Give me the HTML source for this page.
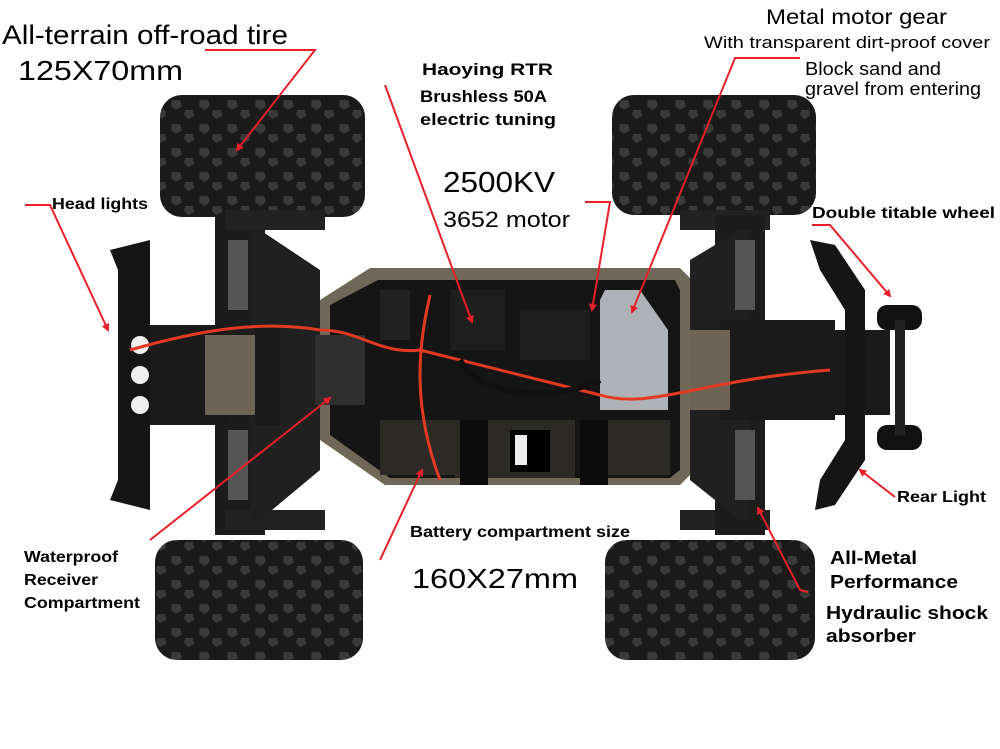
<!DOCTYPE html>
<html><head><style>
html,body{margin:0;padding:0;background:#fff;}
svg{display:block}
text{font-family:"Liberation Sans",sans-serif;fill:#000}
.b{font-weight:bold}
</style></head><body>
<svg width="1000" height="749" viewBox="0 0 1000 749" xmlns="http://www.w3.org/2000/svg">
<defs>
<pattern id="tread" width="28" height="24" patternUnits="userSpaceOnUse">
<rect width="28" height="24" fill="#1a1a1a"/>
<path d="M4 4 L12 4 L14 10 L8 14 L3 10Z M17 14 L25 14 L26 20 L20 23 L16 19Z" fill="#3a3a3a"/>
</pattern>
<marker id="ah" markerWidth="8" markerHeight="8" refX="6" refY="4" orient="auto" markerUnits="userSpaceOnUse"><path d="M0 0 L8 4 L0 8Z" fill="#e8202a"/></marker>
</defs>
<rect x="160" y="95" width="205" height="122" rx="22" fill="url(#tread)"/>
<rect x="612" y="95" width="204" height="120" rx="22" fill="url(#tread)"/>
<rect x="155" y="540" width="208" height="120" rx="22" fill="url(#tread)"/>
<rect x="605" y="540" width="210" height="120" rx="22" fill="url(#tread)"/>
<rect x="215" y="215" width="50" height="320" fill="#1c1c1c"/>
<rect x="225" y="210" width="100" height="20" fill="#222"/>
<rect x="225" y="510" width="100" height="20" fill="#222"/>
<polygon points="260,230 320,270 320,470 260,520 250,520 250,230" fill="#202020"/>
<rect x="680" y="210" width="90" height="20" fill="#222"/>
<rect x="680" y="510" width="90" height="20" fill="#222"/>
<rect x="715" y="215" width="50" height="320" fill="#1c1c1c"/>
<polygon points="690,260 740,230 750,230 750,520 740,520 690,480" fill="#202020"/>
<rect x="228" y="240" width="20" height="70" fill="#555"/>
<rect x="228" y="430" width="20" height="70" fill="#555"/>
<rect x="735" y="240" width="20" height="70" fill="#555"/>
<rect x="735" y="430" width="20" height="70" fill="#555"/>
<rect x="120" y="325" width="110" height="100" fill="#1a1a1a"/>
<polygon points="110,250 150,240 150,510 110,500 118,480 118,270" fill="#151515"/>
<circle cx="140" cy="345" r="9" fill="#eee"/><circle cx="140" cy="375" r="9" fill="#eee"/><circle cx="140" cy="405" r="9" fill="#eee"/>
<rect x="205" y="335" width="75" height="80" fill="#6d6456"/>
<rect x="255" y="325" width="25" height="100" fill="#1a1a1a"/>
<rect x="720" y="320" width="115" height="100" fill="#1a1a1a"/>
<rect x="830" y="330" width="60" height="85" fill="#1a1a1a"/>
<rect x="680" y="330" width="50" height="80" fill="#6d6456"/>
<polygon points="810,240 835,245 865,290 865,460 835,505 815,510 820,480 845,440 845,310 820,270" fill="#151515"/>
<rect x="877" y="305" width="45" height="25" rx="10" fill="#111"/>
<rect x="877" y="425" width="45" height="25" rx="10" fill="#111"/>
<rect x="895" y="320" width="10" height="115" fill="#222"/>
<polygon points="370,268 680,268 690,278 690,475 680,485 385,485 320,440 320,300" fill="#6f6858"/>
<polygon points="378,280 675,280 680,290 680,470 670,478 390,478 330,435 330,305" fill="#151515"/>
<rect x="380" y="420" width="90" height="55" fill="#2c2a26"/>
<rect x="455" y="420" width="120" height="58" fill="#2c2a26"/>
<rect x="580" y="420" width="90" height="55" fill="#2c2a26"/>
<rect x="460" y="420" width="28" height="65" fill="#0c0c0c"/>
<rect x="580" y="420" width="28" height="65" fill="#0c0c0c"/>
<rect x="510" y="430" width="40" height="42" fill="#000"/>
<rect x="515" y="435" width="12" height="30" fill="#eee"/>
<rect x="315" y="335" width="50" height="70" fill="#2f2f2f"/>
<rect x="380" y="290" width="30" height="50" fill="#222"/>
<rect x="450" y="290" width="55" height="60" fill="#1e1e1e"/>
<rect x="520" y="310" width="70" height="50" fill="#1e1e1e"/>
<polygon points="605,290 640,290 668,330 668,410 600,410 600,300" fill="#c9ccd1" opacity="0.85"/>
<path d="M130 350 C200 330 260 320 320 330 C360 330 380 355 420 350 L600 395 C650 410 700 380 830 370" stroke="#e23a22" stroke-width="3" fill="none"/>
<path d="M430 295 C420 340 410 400 440 480" stroke="#e23a22" stroke-width="3" fill="none"/>
<path d="M460 360 C480 400 560 400 600 380" stroke="#111" stroke-width="6" fill="none"/>
<g stroke="#e8202a" stroke-width="2" fill="none">
<path d="M205 50 L315 50 L237 150" marker-end="url(#ah)"/>
<path d="M25 205 L50 205 L108 330" marker-end="url(#ah)"/>
<path d="M385 85 L472 322" marker-end="url(#ah)"/>
<path d="M585 202 L610 202 L592 310" marker-end="url(#ah)"/>
<path d="M800 58 L735 58 L632 312" marker-end="url(#ah)"/>
<path d="M812 225 L830 225 L890 296" marker-end="url(#ah)"/>
<path d="M895 497 L860 470" marker-end="url(#ah)"/>
<path d="M808 592 L800 590 L758 508" marker-end="url(#ah)"/>
<path d="M150 540 L330 398" marker-end="url(#ah)"/>
<path d="M380 560 L422 470" marker-end="url(#ah)"/>
</g>
<g lengthAdjust="spacingAndGlyphs">
<text x="2" y="44" font-size="27" textLength="286" lengthAdjust="spacingAndGlyphs">All-terrain off-road tire</text>
<text x="18" y="80" font-size="28" textLength="165" lengthAdjust="spacingAndGlyphs">125X70mm</text>
<text x="52" y="209" font-size="16" class="b" textLength="96" lengthAdjust="spacingAndGlyphs">Head lights</text>
<text x="422" y="75" font-size="17" class="b" textLength="131" lengthAdjust="spacingAndGlyphs">Haoying RTR</text>
<text x="420" y="102" font-size="17" class="b" textLength="127" lengthAdjust="spacingAndGlyphs">Brushless 50A</text>
<text x="420" y="125" font-size="17" class="b" textLength="136" lengthAdjust="spacingAndGlyphs">electric tuning</text>
<text x="443" y="192" font-size="29" textLength="112" lengthAdjust="spacingAndGlyphs">2500KV</text>
<text x="443" y="227" font-size="22" textLength="127" lengthAdjust="spacingAndGlyphs">3652 motor</text>
<text x="766" y="24" font-size="21" textLength="181" lengthAdjust="spacingAndGlyphs">Metal motor gear</text>
<text x="704" y="48" font-size="17" textLength="286" lengthAdjust="spacingAndGlyphs">With transparent dirt-proof cover</text>
<text x="805" y="75" font-size="18" textLength="136" lengthAdjust="spacingAndGlyphs">Block sand and</text>
<text x="805" y="95" font-size="18" textLength="176" lengthAdjust="spacingAndGlyphs">gravel from entering</text>
<text x="812" y="218" font-size="16" class="b" textLength="183" lengthAdjust="spacingAndGlyphs">Double titable wheel</text>
<text x="897" y="502" font-size="16" class="b" textLength="89" lengthAdjust="spacingAndGlyphs">Rear Light</text>
<text x="830" y="564" font-size="18" class="b" textLength="87" lengthAdjust="spacingAndGlyphs">All-Metal</text>
<text x="830" y="588" font-size="18" class="b" textLength="128" lengthAdjust="spacingAndGlyphs">Performance</text>
<text x="826" y="619" font-size="18" class="b" textLength="162" lengthAdjust="spacingAndGlyphs">Hydraulic shock</text>
<text x="826" y="642" font-size="18" class="b" textLength="90" lengthAdjust="spacingAndGlyphs">absorber</text>
<text x="410" y="537" font-size="16" class="b" textLength="220" lengthAdjust="spacingAndGlyphs">Battery compartment size</text>
<text x="412" y="588" font-size="28" textLength="166" lengthAdjust="spacingAndGlyphs">160X27mm</text>
<text x="24" y="562" font-size="16" class="b" textLength="94" lengthAdjust="spacingAndGlyphs">Waterproof</text>
<text x="24" y="585" font-size="16" class="b" textLength="74" lengthAdjust="spacingAndGlyphs">Receiver</text>
<text x="24" y="608" font-size="16" class="b" textLength="116" lengthAdjust="spacingAndGlyphs">Compartment</text>
</g>
</svg>
</body></html>
